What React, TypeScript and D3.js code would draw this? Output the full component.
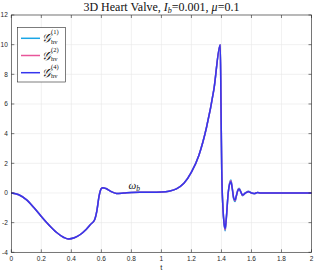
import * as d3 from "d3";

// shared time grid
const tVals = [
  0, 0.05, 0.1, 0.15, 0.2, 0.25, 0.3, 0.35, 0.38, 0.42, 0.46, 0.5, 0.53, 0.555,
  0.57, 0.585, 0.6, 0.61, 0.63, 0.66, 0.7, 0.75, 0.8, 0.9, 1.0, 1.05, 1.1, 1.15,
  1.2, 1.25, 1.3, 1.35, 1.392, 1.397, 1.402, 1.41, 1.418, 1.425, 1.433, 1.445,
  1.455, 1.463, 1.472, 1.482, 1.491, 1.5, 1.51, 1.518, 1.53, 1.54, 1.56, 1.58,
  1.6, 1.62, 1.64, 1.66, 1.7, 1.8, 2.0,
];

const base = [
  0, -0.12, -0.45, -0.98, -1.58, -2.15, -2.65, -3.0, -3.1, -3.02, -2.8, -2.45,
  -2.1, -1.8, -1.2, -0.2, 0.3, 0.36, 0.3, 0.12, -0.03, 0.0, 0.04, 0.05, 0.07,
  0.12, 0.28, 0.65, 1.4, 2.55, 4.4, 7.0, 10.0, 6.0, 1.5, -1.0, -2.1,
];

const g1 = base.concat([
  -2.55, -1.7, 0.0, 0.7, 0.88, 0.35, -0.42, -0.58, -0.2, 0.24, 0.32, 0.06,
  -0.18, 0.0, 0.12, 0.0, -0.05, 0.04, 0.0, 0.0, 0.0, 0.0,
]);
const g2 = base.concat([
  -2.48, -1.65, 0.0, 0.66, 0.82, 0.32, -0.38, -0.52, -0.17, 0.21, 0.29, 0.05,
  -0.16, 0.0, 0.1, 0.0, -0.04, 0.035, 0.0, 0.0, 0.0, 0.0,
]);
const g4 = base.concat([
  -2.4, -1.6, 0.0, 0.62, 0.76, 0.3, -0.35, -0.47, -0.15, 0.18, 0.25, 0.05,
  -0.13, 0.0, 0.09, 0.0, -0.03, 0.03, 0.0, 0.0, 0.0, 0.0,
]);

const seriesNames = ["1", "2", "4"];
const seriesColors = ["#1aa6e6", "#e8559a", "#3535ee"];
const seriesValues = [g1, g2, g4];

const xTicks = [0, 0.2, 0.4, 0.6, 0.8, 1, 1.2, 1.4, 1.6, 1.8, 2];
const yTicks = [-4, -2, 0, 2, 4, 6, 8, 10, 12];

export default function App() {
  const W = 314;
  const H = 274;
  const left = 11.3;
  const right = 311.5;
  const top = 15;
  const bottom = 252.3;

  const x = d3.scaleLinear().domain([0, 2]).range([left, right]);
  const y = d3.scaleLinear().domain([-4, 12]).range([bottom, top]);

  const line = d3
    .line<number>()
    .x((_, i) => x(tVals[i]))
    .y((d) => y(d))
    .curve(d3.curveMonotoneX);

  const axisCol = "#262626";
  const tickLen = 3;
  const tickFont = "Liberation Sans, Arial, sans-serif";
  const serif = "Liberation Serif, Times New Roman, serif";

  return (
    <svg
      width={W}
      height={H}
      style={{ position: "absolute", left: 0, top: 0, background: "#fff" }}
    >
      <rect x={0} y={0} width={W} height={H} fill="#fff" />
      {/* grid */}
      {xTicks.map((t) => (
        <line
          key={"gx" + t}
          x1={x(t)}
          x2={x(t)}
          y1={top}
          y2={bottom}
          stroke="#e8e8e8"
          strokeWidth={0.6}
        />
      ))}
      {yTicks.map((t) => (
        <line
          key={"gy" + t}
          x1={left}
          x2={right}
          y1={y(t)}
          y2={y(t)}
          stroke="#e8e8e8"
          strokeWidth={0.6}
        />
      ))}

      {/* series */}
      {seriesValues.map((vals, k) => (
        <path
          key={"s" + k}
          d={line(vals) || ""}
          fill="none"
          stroke={seriesColors[k]}
          strokeWidth={1.5}
          strokeLinejoin="round"
        />
      ))}

      {/* box */}
      <rect
        x={left}
        y={top}
        width={right - left}
        height={bottom - top}
        fill="none"
        stroke={axisCol}
        strokeWidth={0.6}
      />
      {/* ticks */}
      {xTicks.map((t) => (
        <g key={"tx" + t}>
          <line x1={x(t)} x2={x(t)} y1={bottom} y2={bottom - tickLen} stroke={axisCol} strokeWidth={0.6} />
          <line x1={x(t)} x2={x(t)} y1={top} y2={top + tickLen} stroke={axisCol} strokeWidth={0.6} />
          <text
            x={x(t)}
            y={bottom + 8.5}
            fontSize={6.5}
            fontFamily={tickFont}
            textAnchor="middle"
            fill={axisCol}
          >
            {t}
          </text>
        </g>
      ))}
      {yTicks.map((t) => (
        <g key={"ty" + t}>
          <line x1={left} x2={left + tickLen} y1={y(t)} y2={y(t)} stroke={axisCol} strokeWidth={0.6} />
          <line x1={right} x2={right - tickLen} y1={y(t)} y2={y(t)} stroke={axisCol} strokeWidth={0.6} />
          <text
            x={left - 3.5}
            y={y(t) + 2.2}
            fontSize={6.5}
            fontFamily={tickFont}
            textAnchor="end"
            fill={axisCol}
          >
            {t}
          </text>
        </g>
      ))}

      {/* axis label */}
      <text
        x={(left + right) / 2}
        y={270}
        fontSize={7.5}
        fontFamily={tickFont}
        textAnchor="middle"
        fill={axisCol}
      >
        t
      </text>

      {/* title */}
      <text
        x={(left + right) / 2}
        y={10.5}
        fontSize={12}
        fontFamily={serif}
        textAnchor="middle"
        fill="#111"
      >
        3D Heart Valve, <tspan fontStyle="italic">I</tspan>
        <tspan fontStyle="italic" fontSize={8} dy={2}>b</tspan>
        <tspan dy={-2}>=0.001, </tspan>
        <tspan fontStyle="italic">μ</tspan>=0.1
      </text>

      {/* annotation */}
      <text
        x={x(0.78)}
        y={y(0.3)}
        fontSize={11}
        fontFamily={serif}
        fontStyle="italic"
        fill="#111"
      >
        ω
        <tspan fontSize={7.5} dy={2}>b</tspan>
      </text>

      {/* legend */}
      <rect x={17.5} y={27.5} width={48} height={54.5} fill="#fff" stroke={axisCol} strokeWidth={0.6} />
      {seriesNames.map((n, k) => {
        const cy = 38.3 + k * 17.2;
        return (
          <g key={"lg" + n}>
            <line x1={21} x2={40} y1={cy} y2={cy} stroke={seriesColors[k]} strokeWidth={1.5} />
            <text
              x={41.5}
              y={cy + 4}
              fontSize={12}
              fontFamily={serif}
              fontStyle="italic"
              fill="#111"
            >
              𝒢
            </text>
            <text
              x={51}
              y={cy - 4}
              fontSize={6.5}
              fontFamily={serif}
              fill="#111"
            >
              ({n})
            </text>
            <text
              x={51}
              y={cy + 5.5}
              fontSize={6.5}
              fontFamily={serif}
              fill="#111"
            >
              hv
            </text>
          </g>
        );
      })}
    </svg>
  );
}
